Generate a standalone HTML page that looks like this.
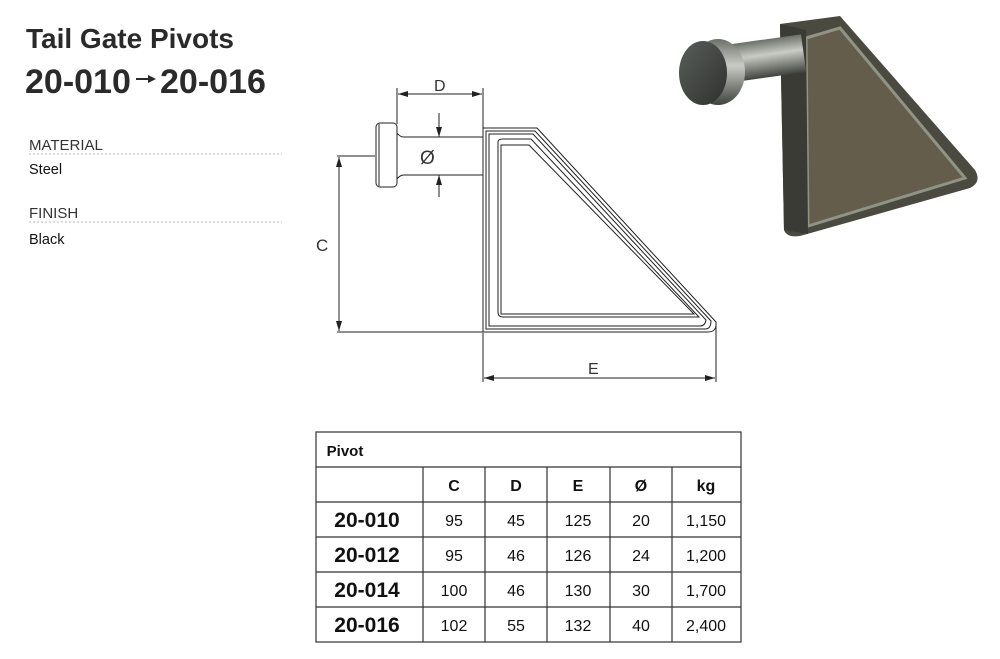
<!DOCTYPE html>
<html><head><meta charset="utf-8"><style>
body{margin:0;background:#fff;width:1000px;height:659px;overflow:hidden;font-family:"Liberation Sans",sans-serif;}
svg{position:absolute;left:0;top:0}
</style></head><body>
<svg width="1000" height="659" viewBox="0 0 1000 659" xmlns="http://www.w3.org/2000/svg" font-family="Liberation Sans, sans-serif">
<defs>
<marker id="ar" viewBox="0 0 10 6" refX="10" refY="3" markerWidth="10" markerHeight="6" orient="auto-start-reverse" markerUnits="userSpaceOnUse"><path d="M0,0L10,3L0,6z" fill="#222"/></marker>
<linearGradient id="sh" x1="0" y1="0" x2="0" y2="1"><stop offset="0" stop-color="#6d7068"/><stop offset="0.4" stop-color="#c9ccc4"/><stop offset="1" stop-color="#3f423d"/></linearGradient>
<linearGradient id="cap" x1="0" y1="0" x2="1" y2="1"><stop offset="0" stop-color="#5a5e5a"/><stop offset="1" stop-color="#2e312e"/></linearGradient>
</defs>
<text x="26" y="48" font-size="28" font-weight="bold" fill="#2a2a2a">Tail Gate Pivots</text>
<text x="25" y="93" font-size="34" font-weight="bold" fill="#2a2a2a">20-010</text>
<line x1="136" y1="79" x2="150" y2="79" stroke="#2a2a2a" stroke-width="2"/><path d="M148,75L156,79L148,83z" fill="#2a2a2a"/>
<text x="160" y="93" font-size="34" font-weight="bold" fill="#2a2a2a">20-016</text>
<text x="29" y="150" font-size="15" fill="#333">MATERIAL</text>
<line x1="29" y1="154" x2="282" y2="154" stroke="#bbb" stroke-dasharray="2,2"/>
<text x="29" y="174" font-size="14.5" fill="#111">Steel</text>
<text x="29" y="218" font-size="15" fill="#333">FINISH</text>
<line x1="29" y1="222" x2="282" y2="222" stroke="#bbb" stroke-dasharray="2,2"/>
<text x="29" y="244" font-size="14.5" fill="#111">Black</text>

<g stroke="#222" fill="none" stroke-width="1">
<line x1="397" y1="88" x2="397" y2="124"/>
<line x1="483" y1="88" x2="483" y2="128"/>
<line x1="398" y1="94" x2="482" y2="94" marker-start="url(#ar)" marker-end="url(#ar)"/>
<rect x="376" y="123" width="21" height="64" rx="4"/>
<line x1="379" y1="124" x2="379" y2="186"/>
<path d="M397,133 Q400,137 404,137 L483,137 M397,179 Q400,175 404,175 L483,175"/>
<line x1="439" y1="113" x2="439" y2="137" marker-end="url(#ar)"/>
<line x1="439" y1="197" x2="439" y2="175" marker-end="url(#ar)"/>
<line x1="337" y1="156" x2="375" y2="156"/>
<line x1="339" y1="157" x2="339" y2="331" marker-start="url(#ar)" marker-end="url(#ar)"/>
<line x1="337" y1="332" x2="483" y2="332"/>
<path d="M483,128 L537,128 L716,322 Q717,332 708,332 L483,332 Z"/>
<path d="M486,131 L535,131 L711,321 Q711,329 705,329 L486,329 Z"/>
<path d="M489,134 L533,134 L706,320 Q705,326 700,326 L489,326 Z"/>
<path d="M498,142 Q498,139 503,139 L531,139 L699,317 L503,317 Q498,317 498,312 Z"/>
<path d="M501,145 L529,145 L694,314 L501,314 Z"/>
<line x1="483" y1="333" x2="483" y2="382"/>
<line x1="716" y1="323" x2="716" y2="382"/>
<line x1="484" y1="378" x2="715" y2="378" marker-start="url(#ar)" marker-end="url(#ar)"/>
</g>
<text x="434" y="91" font-size="16" fill="#333">D</text>
<text x="420" y="164" font-size="19" fill="#333">Ø</text>
<text x="316" y="251" font-size="17" fill="#333">C</text>
<text x="588" y="374" font-size="16" fill="#333">E</text>

<path d="M780,24 L840,16 L975,170 Q982,182 970,188 L800,236 Q787,238 784,230 Z" fill="#4a4a40"/>
<path d="M806,38 L840,28 L965,178 L808,226 Z" fill="#645d4b" stroke="#8f9484" stroke-width="3"/>
<path d="M780,24 L806,30 L808,234 L784,230 Z" fill="#3a3b35"/>
<rect x="722" y="40" width="82" height="38" fill="url(#sh)" transform="rotate(-8 762 59)"/>
<ellipse cx="718" cy="72" rx="27" ry="33" fill="url(#sh)"/>
<ellipse cx="703" cy="73" rx="24" ry="32" fill="url(#cap)"/>

<g stroke="#333" stroke-width="1.2" fill="none">
<rect x="316" y="432" width="425" height="210"/>
<line x1="316" y1="467" x2="741" y2="467"/>
<line x1="316" y1="502" x2="741" y2="502"/>
<line x1="316" y1="537" x2="741" y2="537"/>
<line x1="316" y1="572" x2="741" y2="572"/>
<line x1="316" y1="607" x2="741" y2="607"/>
<line x1="423" y1="467" x2="423" y2="642"/>
<line x1="485" y1="467" x2="485" y2="642"/>
<line x1="547" y1="467" x2="547" y2="642"/>
<line x1="610" y1="467" x2="610" y2="642"/>
<line x1="672" y1="467" x2="672" y2="642"/>
</g>
<g fill="#111" font-size="16" text-anchor="middle">
<text x="345" y="456" font-weight="bold" font-size="15">Pivot</text>
<g font-weight="bold"><text x="454" y="491">C</text><text x="516" y="491">D</text><text x="578" y="491">E</text><text x="641" y="491">Ø</text><text x="706" y="491">kg</text></g>
<g font-weight="bold" font-size="21"><text x="367" y="527">20-010</text><text x="367" y="562">20-012</text><text x="367" y="597">20-014</text><text x="367" y="632">20-016</text></g>
<text x="454" y="526">95</text><text x="516" y="526">45</text><text x="578" y="526">125</text><text x="641" y="526">20</text><text x="706" y="526">1,150</text>
<text x="454" y="561">95</text><text x="516" y="561">46</text><text x="578" y="561">126</text><text x="641" y="561">24</text><text x="706" y="561">1,200</text>
<text x="454" y="596">100</text><text x="516" y="596">46</text><text x="578" y="596">130</text><text x="641" y="596">30</text><text x="706" y="596">1,700</text>
<text x="454" y="631">102</text><text x="516" y="631">55</text><text x="578" y="631">132</text><text x="641" y="631">40</text><text x="706" y="631">2,400</text>
</g>
</svg>
</body></html>
